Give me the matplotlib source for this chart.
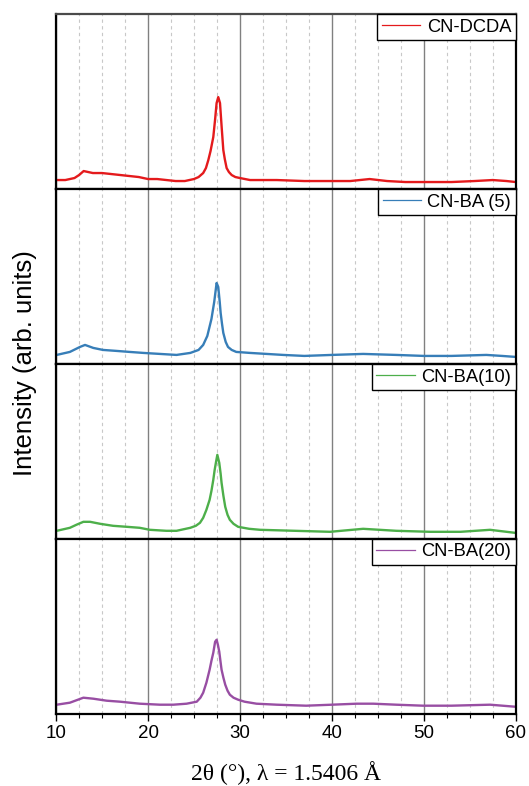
import matplotlib.pyplot as plt
from matplotlib.ticker import MultipleLocator

plt.rcParams['font.family'] = ['Liberation Sans', 'DejaVu Sans']

# XRD patterns, 2theta in degrees, intensity in arb. units
tt_dcda = [10.0, 11.0, 12.0, 12.5, 13.0, 13.5, 14.0, 15.0, 16.0, 17.0, 18.0, 19.0, 20.0, 21.0,
           22.0, 23.0, 24.0, 25.0, 25.5, 26.0, 26.3, 26.56, 26.8, 27.1, 27.3, 27.46, 27.64,
           27.83, 28.01, 28.19, 28.35, 28.55, 28.8, 29.1, 29.5, 30.0, 31.1, 34.0, 37.0, 39.8,
           42.0, 44.1, 46.0, 48.0, 50.6, 53.0, 55.5, 57.5, 59.0, 60.0]
I_dcda = [9, 9, 11, 14, 18, 17, 16, 16, 15, 14, 13, 12, 10, 10,
          9, 8, 8, 10, 12, 16, 21, 29, 38, 52, 70, 86, 92,
          86, 62, 39, 30, 21, 17, 14, 12, 11, 9, 9, 8, 8,
          8, 10, 8, 7, 7, 7, 8, 9, 8, 7]

tt_ba5 = [10.07, 11.5, 12.6, 13.15, 14.05, 15.1, 16.6, 18.0, 19.5, 21.3, 23.1, 24.6, 25.5,
          26.0, 26.45, 26.9, 27.2, 27.46, 27.64, 27.8, 27.9, 28.05, 28.19, 28.45, 28.7, 29.1,
          29.6, 31.1, 34.7, 37.0, 40.0, 43.4, 47.0, 50.0, 53.0, 56.8, 58.5, 60.0]
I_ba5 = [9, 12, 17, 19, 16, 14, 13, 12, 11, 10, 9, 11, 14,
         19, 28, 45, 62, 81, 77, 62, 51, 40, 31, 22, 17, 14,
         12, 11, 9, 8, 9, 10, 9, 8, 8, 9, 8, 7]

tt_ba10 = [10.07, 11.5, 12.2, 12.97, 13.7, 14.8, 16.2, 17.7, 19.1, 20.2, 22.0, 23.1, 24.6,
           25.2, 25.65, 26.0, 26.35, 26.7, 26.9, 27.1, 27.25, 27.4, 27.54, 27.75, 27.9, 28.0,
           28.2, 28.4, 28.65, 28.9, 29.3, 29.8, 31.0, 32.2, 36.0, 39.8, 43.4, 47.0, 50.7,
           54.0, 57.2, 59.9]
I_ba10 = [8, 11, 14, 17, 17, 15, 13, 12, 11, 9, 8, 8, 11,
          13, 16, 21, 29, 39, 48, 59, 69, 77, 84, 76, 65, 56,
          43, 32, 24, 19, 15, 12, 10, 9, 8, 7, 10, 8, 7,
          7, 9, 6]

tt_ba20 = [10.07, 11.5, 12.97, 14.05, 15.5, 16.96, 19.1, 21.3, 22.75, 24.2, 25.3, 25.7,
           26.0, 26.35, 26.7, 26.9, 27.1, 27.3, 27.46, 27.6, 27.75, 27.9, 28.0, 28.2, 28.4,
           28.65, 28.9, 29.3, 29.8, 30.5, 31.8, 34.0, 37.2, 40.0, 42.7, 44.5, 47.0, 49.9,
           53.0, 57.2, 59.9]
I_ba20 = [9, 11, 16, 15, 13, 12, 10, 9, 9, 10, 12, 16,
          21, 31, 44, 53, 61, 72, 74, 69, 62, 51, 44, 36, 29,
          23, 19, 16, 14, 12, 10, 9, 8, 9, 10, 10, 9, 8,
          8, 9, 7]

series = [
    (tt_dcda, I_dcda, 'CN-DCDA', '#e41a1c'),
    (tt_ba5, I_ba5, 'CN-BA (5)', '#377eb8'),
    (tt_ba10, I_ba10, 'CN-BA(10)', '#4daf4a'),
    (tt_ba20, I_ba20, 'CN-BA(20)', '#984ea3'),
]

fig, axes = plt.subplots(4, 1, sharex=True, figsize=(5.29, 7.86), dpi=100)
fig.subplots_adjust(left=0.106, right=0.975, top=0.982, bottom=0.092, hspace=0)

for ax, (tt, inten, name, col) in zip(axes, series):
    ax.plot(tt, inten, color=col, lw=1.7, label=name)
    ax.set_xlim(10, 60)
    ax.set_ylim(0, 175)
    ax.xaxis.set_major_locator(MultipleLocator(10))
    ax.xaxis.set_minor_locator(MultipleLocator(2.5))
    ax.grid(which='major', axis='x', color='#808080', lw=1.0)
    ax.grid(which='minor', axis='x', color='#c8c8c8', lw=0.8, ls=(0, (3, 3)))
    ax.set_axisbelow(True)
    ax.set_yticks([])
    ax.tick_params(axis='x', which='both', bottom=False, labelbottom=False)
    for spine in ax.spines.values():
        spine.set_linewidth(1.6)
        spine.set_color('black')
    leg = ax.legend(loc='upper right', borderaxespad=0, fancybox=False, framealpha=1,
                    edgecolor='black', fontsize=13.2, handlelength=2.1, handletextpad=0.35,
                    borderpad=0.25)
    leg.get_frame().set_linewidth(1.0)
    for line in leg.get_lines():
        line.set_linewidth(0.9)

axes[0].spines['top'].set_color('#4a4a4a')

# only the bottom panel carries the 2theta scale
bottom = axes[-1]
bottom.tick_params(axis='x', which='major', bottom=True, labelbottom=True, direction='out',
                   length=5, width=1.0, labelsize=13.5, pad=3)
bottom.tick_params(axis='x', which='minor', bottom=True, direction='out', length=3, width=0.8)

fig.text(0.048, 0.538, 'Intensity (arb. units)', rotation=90, ha='center', va='center',
         fontsize=18.5)
fig.text(0.541, 0.016, '2θ (°), λ = 1.5406 Å', ha='center', va='center', fontsize=17,
         family=['Liberation Serif', 'DejaVu Serif'])

fig.savefig('out.png', dpi=100)
